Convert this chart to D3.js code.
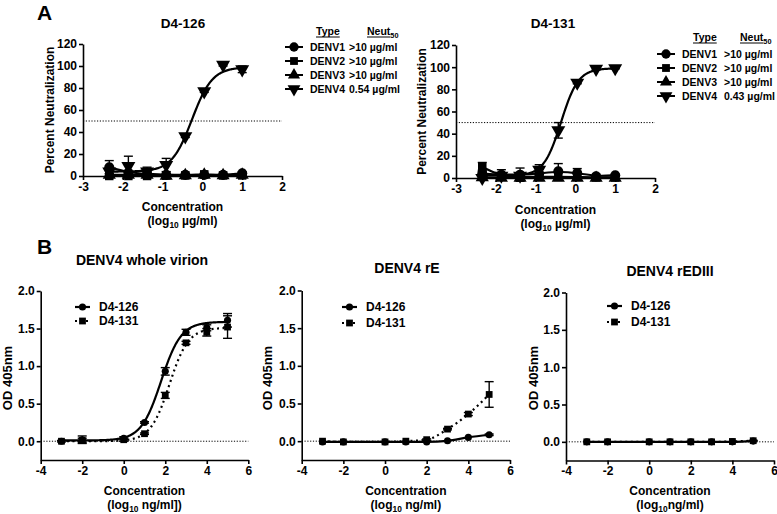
<!DOCTYPE html>
<html><head><meta charset="utf-8">
<script src="https://cdn.jsdelivr.net/npm/d3@7"></script>
<style>
body{margin:0;background:#fff}
svg text{font-family:"Liberation Sans",Arial,Helvetica,sans-serif;font-weight:bold;fill:#000}
</style>
</head><body>
<script>
// ---------------- DATA ----------------
// Panel A: log10 concentration (µg/ml)
const concA = [-2.34, -1.86, -1.39, -0.91, -0.43, 0.046, 0.52, 1.0];
const typesA = ["DENV1", "DENV2", "DENV3", "DENV4"];
const neut126 = [">10 µg/ml", ">10 µg/ml", ">10 µg/ml", "0.54 µg/ml"];
const neut131 = [">10 µg/ml", ">10 µg/ml", ">10 µg/ml", "0.43 µg/ml"];
const ticksAx = [-3, -2, -1, 0, 1, 2];
const ticksAy = [0, 20, 40, 60, 80, 100, 120];

// D4-126 neutralization (%)
const a126_denv1 = [8, 3, 2, 1, 1, 1, 1, 2.5];
const a126_denv1_err = [6, 0, 0, 0, 0, 0, 0, 1];
const a126_denv2 = [0, 0, 0, 0.5, 0.5, 1.5, 0.5, 0.5];
const a126_denv2_err = [0, 0, 0, 0, 0, 0, 0, 0];
const a126_denv3 = [1, 1, 1, 0, 0.5, 1, 0.5, 1];
const a126_denv3_err = [0, 0, 0, 0, 0, 0, 0, 0];
const a126_denv4 = [4, 9, 4, 10, 36, 77, 101, 97];
const a126_denv4_err = [2, 9, 4, 6, 1, 1, 1, 3];
const fit126_denv4 = [4, 99, -0.26, 1.7]; // bottom, top, logEC50, hill

// D4-131 neutralization (%)
const a131_denv1 = [4, 3, 3, 4, 6, 4.5, 1.5, 2.5];
const a131_denv1_err = [3, 4.5, 6, 4, 7, 4, 0, 0.5];
const a131_denv2 = [10, 1.5, 1, 1, 1, 1, 0.5, 0.5];
const a131_denv2_err = [4, 0, 0, 0, 0, 0, 0, 0];
const a131_denv3 = [0.5, 0, 0, 0, 0, 0, 0, 0];
const a131_denv3_err = [0, 0, 0, 0, 0, 0, 0, 0];
const a131_denv4 = [0, 2, 2, 7.5, 43, 86, 98.5, 99];
const a131_denv4_err = [0, 0, 0, 4.5, 7, 1, 1, 0.5];
const fit131_denv4 = [2, 99, -0.36, 2.0];

// Panel B: log10 concentration (ng/ml), OD 405nm
const concB = [-3, -2, 0, 1, 2, 3, 4, 5];
const antibodiesB = ["D4-126", "D4-131"];
const ticksBx = [-4, -2, 0, 2, 4, 6];
const ticksBy = [0, 0.5, 1.0, 1.5, 2.0];

const b1_126 = [0, 0.02, 0.04, 0.25, 0.93, 1.45, 1.51, 1.61];
const b1_126_err = [0.01, 0.05, 0.02, 0.01, 0.05, 0.04, 0.04, 0.09];
const b1_131 = [0, 0.01, 0.02, 0.10, 0.61, 1.31, 1.45, 1.52];
const b1_131_err = [0, 0.03, 0.02, 0.01, 0.04, 0.02, 0.05, 0.15];
const fitB1_126 = [0.01, 1.59, 1.8, 0.9];
const fitB1_131 = [0.0, 1.51, 2.2, 0.95];

const b2_126 = [-0.01, -0.01, -0.01, -0.01, -0.01, 0.005, 0.05, 0.085];
const b2_126_err = [0, 0, 0, 0, 0, 0, 0, 0.01];
const b2_131 = [0, -0.01, -0.01, 0, 0.02, 0.16, 0.36, 0.62];
const b2_131_err = [0, 0, 0, 0, 0.01, 0.01, 0.02, 0.17];

const b3_126 = [0, 0, 0, 0, 0, 0, 0, 0.01];
const b3_126_err = [0, 0, 0, 0, 0, 0, 0, 0];
const b3_131 = [0, 0, 0, 0, 0, 0, 0.005, 0.015];
const b3_131_err = [0, 0, 0, 0, 0, 0, 0, 0.005];

// ---------------- DRAWING ----------------
const svg = d3.select("body").append("svg").attr("width", 777).attr("height", 514);

const hill = (p, x) => p[0] + (p[1] - p[0]) / (1 + Math.pow(10, (p[2] - x) * p[3]));

function symPath(kind, size) {
  const types = {circle: d3.symbolCircle, square: d3.symbolSquare, up: d3.symbolTriangle, down: d3.symbolTriangle};
  return d3.symbol().type(types[kind]).size(size)();
}
function drawSym(g, kind, size, cx, cy) {
  g.append("path").attr("d", symPath(kind, size))
    .attr("transform", `translate(${cx},${cy})` + (kind === "down" ? " rotate(180)" : ""))
    .attr("fill", "#000");
}

function axes(g, x, y, xt, yt, yfmt, xAxisAt, fs) {
  const ya = g.append("g").attr("transform", `translate(${x.range()[0]},0)`)
    .call(d3.axisLeft(y).tickValues(yt).tickSize(4).tickSizeOuter(0).tickPadding(2).tickFormat(yfmt));
  const xa = g.append("g").attr("transform", `translate(0,${xAxisAt})`)
    .call(d3.axisBottom(x).tickValues(xt).tickSize(4).tickSizeOuter(0).tickPadding(2).tickFormat(d => String(d)));
  [ya, xa].forEach(a => {
    a.attr("font-family", null).attr("font-size", null);
    a.select(".domain").attr("stroke-width", 1.6);
    a.selectAll(".tick line").attr("stroke-width", 1.6);
    a.selectAll(".tick text").attr("font-size", fs);
  });
}

function errBars(g, x, y, xs, vs, es, cap) {
  xs.forEach((xv, i) => {
    if (!es[i]) return;
    const px = x(xv), y1 = y(vs[i] + es[i]), y0 = y(vs[i] - es[i]);
    g.append("line").attr("x1", px).attr("x2", px).attr("y1", y1).attr("y2", y0).attr("stroke", "#000").attr("stroke-width", 1.4);
    [y1, y0].forEach(yy => g.append("line").attr("x1", px - cap).attr("x2", px + cap).attr("y1", yy).attr("y2", yy).attr("stroke", "#000").attr("stroke-width", 1.4));
  });
}

function underlineText(g, txt, xs, ys, fs, subTxt) {
  const t = g.append("text").attr("x", xs).attr("y", ys).attr("font-size", fs).text(txt);
  const w = t.node().getComputedTextLength();
  g.append("line").attr("x1", xs).attr("x2", xs + w).attr("y1", ys + 2).attr("y2", ys + 2).attr("stroke", "#000").attr("stroke-width", 1);
  if (subTxt) g.append("text").attr("x", xs + w).attr("y", ys + 3).attr("font-size", fs * 0.7).text(subTxt);
}

function xLabel(g, cx, y1, unit, fs) {
  g.append("text").attr("x", cx).attr("y", y1).attr("text-anchor", "middle").attr("font-size", fs).text("Concentration");
  const t = g.append("text").attr("x", cx).attr("y", y1 + 14).attr("text-anchor", "middle").attr("font-size", fs);
  t.append("tspan").text("(log");
  t.append("tspan").attr("font-size", fs * 0.7).attr("dy", 3).text("10");
  t.append("tspan").attr("dy", -3).text(unit);
}

function yLabel(g, cx, cy, txt, fs) {
  g.append("text").attr("transform", `translate(${cx},${cy}) rotate(-90)`).attr("text-anchor", "middle")
    .attr("font-size", fs).attr("dy", "0.35em").text(txt);
}

// ---- Panel A ----
function panelA(cfg) {
  const g = svg.append("g");
  const x = d3.scaleLinear().domain([-3, 2]).range(cfg.xr);
  const y = d3.scaleLinear().domain([0, 120]).range(cfg.yr);
  g.append("line").attr("x1", x(-3)).attr("x2", x(2)).attr("y1", y(50)).attr("y2", y(50))
    .attr("stroke", "#000").attr("stroke-width", 1).attr("stroke-dasharray", "1.2,1.6");
  axes(g, x, y, ticksAx, ticksAy, d => String(d), y(0), 12);
  const kinds = ["circle", "square", "up", "down"];
  const sizes = [80, 72, 75, 85];
  const lineFlat = d3.line().x((d, i) => x(concA[i])).y(d => y(d)).curve(d3.curveBasis);
  cfg.series.forEach((s, k) => {
    if (k < 3) {
      g.append("path").attr("d", lineFlat(s.v)).attr("fill", "none").attr("stroke", "#000").attr("stroke-width", 2.2);
    } else {
      const xs = d3.range(concA[0], concA[concA.length - 1] + 0.001, 0.02);
      const ln = d3.line().x(d => x(d)).y(d => y(hill(cfg.fit, d)));
      g.append("path").attr("d", ln(xs)).attr("fill", "none").attr("stroke", "#000").attr("stroke-width", 2.2);
    }
  });
  cfg.series.forEach((s, k) => {
    errBars(g, x, y, concA, s.v, s.e, 4.5);
    concA.forEach((c, i) => drawSym(g, kinds[k], sizes[k], x(c), y(s.v[i])));
  });
  g.append("text").attr("x", cfg.titleX).attr("y", 28).attr("text-anchor", "middle").attr("font-size", 13.5).text(cfg.title);
  yLabel(g, cfg.ylabX, (cfg.yr[0] + cfg.yr[1]) / 2, "Percent Neutralization", 12);
  xLabel(g, (cfg.xr[0] + cfg.xr[1]) / 2, cfg.xlabY, " µg/ml)", 12);
  // legend
  const L = cfg.leg;
  underlineText(g, "Type", L.typeX, L.headY, 10.5);
  underlineText(g, "Neut", L.neutX, L.headY, 10.5, "50");
  typesA.forEach((t, k) => {
    const cy = L.rows[k];
    g.append("line").attr("x1", L.symX - 9).attr("x2", L.symX + 9).attr("y1", cy).attr("y2", cy).attr("stroke", "#000").attr("stroke-width", 2);
    drawSym(g, kinds[k], sizes[k] * 0.85, L.symX, cy);
    g.append("text").attr("x", L.textX).attr("y", cy + 3.8).attr("font-size", 10.5).text(t);
    g.append("text").attr("x", L.valX).attr("y", cy + 3.8).attr("font-size", 10.5).text(cfg.neut[k]);
  });
}

panelA({
  xr: [83, 282], yr: [176, 44], title: "D4-126", titleX: 183, ylabX: 50, xlabY: 211,
  series: [{v: a126_denv1, e: a126_denv1_err}, {v: a126_denv2, e: a126_denv2_err}, {v: a126_denv3, e: a126_denv3_err}, {v: a126_denv4, e: a126_denv4_err}],
  fit: fit126_denv4, neut: neut126,
  leg: {typeX: 316, neutX: 367, headY: 35, rows: [47, 61, 75, 89], symX: 294, textX: 310, valX: 349}
});
panelA({
  xr: [456, 655], yr: [178, 45], title: "D4-131", titleX: 553, ylabX: 422, xlabY: 214,
  series: [{v: a131_denv1, e: a131_denv1_err}, {v: a131_denv2, e: a131_denv2_err}, {v: a131_denv3, e: a131_denv3_err}, {v: a131_denv4, e: a131_denv4_err}],
  fit: fit131_denv4, neut: neut131,
  leg: {typeX: 693, neutX: 740, headY: 41, rows: [54, 68, 82, 96], symX: 666, textX: 682, valX: 724}
});

// ---- Panel B ----
function panelB(cfg) {
  const g = svg.append("g");
  const x = d3.scaleLinear().domain([-4, 6]).range(cfg.xr);
  const y = d3.scaleLinear().domain([-0.25, 2.0]).range(cfg.yr);
  g.append("line").attr("x1", x(-4)).attr("x2", x(6)).attr("y1", y(0)).attr("y2", y(0))
    .attr("stroke", "#000").attr("stroke-width", 1).attr("stroke-dasharray", "1.2,1.6");
  axes(g, x, y, ticksBx, ticksBy, d3.format(".1f"), y(-0.25), 12);
  const dashes = [null, "2,3.5"];
  const kinds = ["circle", "square"];
  const sizes = [40, 46];
  cfg.series.forEach((s, k) => {
    let d;
    if (s.fit) {
      const xs = d3.range(concB[0], concB[concB.length - 1] + 0.001, 0.02);
      d = d3.line().x(v => x(v)).y(v => y(hill(s.fit, v)))(xs);
    } else {
      d = d3.line().x((v, i) => x(concB[i])).y(v => y(v)).curve(d3.curveMonotoneX)(s.v);
    }
    g.append("path").attr("d", d).attr("fill", "none").attr("stroke", "#000").attr("stroke-width", 2.2)
      .attr("stroke-dasharray", dashes[k]);
  });
  cfg.series.forEach((s, k) => {
    errBars(g, x, y, concB, s.v, s.e, 4.5);
    concB.forEach((c, i) => drawSym(g, kinds[k], sizes[k], x(c), y(s.v[i])));
  });
  g.append("text").attr("x", cfg.titleX).attr("y", cfg.titleY).attr("text-anchor", "middle").attr("font-size", 14).text(cfg.title);
  yLabel(g, cfg.ylabX, 378, "OD 405nm", 13);
  const cx = (cfg.xr[0] + cfg.xr[1]) / 2;
  xLabel(g, cx, 495, cfg.unit, 12);
  antibodiesB.forEach((a, k) => {
    const cy = cfg.legY[k];
    g.append("line").attr("x1", cfg.legX).attr("x2", cfg.legX + 15).attr("y1", cy).attr("y2", cy)
      .attr("stroke", "#000").attr("stroke-width", 2.2).attr("stroke-dasharray", dashes[k]);
    drawSym(g, kinds[k], sizes[k], cfg.legX + 7.5, cy);
    g.append("text").attr("x", cfg.legX + 24).attr("y", cy + 4.2).attr("font-size", 12).text(a);
  });
}

panelB({
  xr: [40.7, 248.3], yr: [460, 291], title: "DENV4 whole virion", titleX: 142, titleY: 265, ylabX: 7, unit: " ng/ml])",
  series: [{v: b1_126, e: b1_126_err, fit: fitB1_126}, {v: b1_131, e: b1_131_err, fit: fitB1_131}],
  legX: 75, legY: [307, 321]
});
panelB({
  xr: [301.7, 510], yr: [460, 290.5], title: "DENV4 rE", titleX: 407, titleY: 273, ylabX: 267, unit: " ng/ml)",
  series: [{v: b2_126, e: b2_126_err}, {v: b2_131, e: b2_131_err}],
  legX: 342, legY: [307, 323]
});
panelB({
  xr: [566, 774], yr: [460.5, 292.5], title: "DENV4 rEDIII", titleX: 670, titleY: 276, ylabX: 533, unit: "ng/ml)",
  series: [{v: b3_126, e: b3_126_err}, {v: b3_131, e: b3_131_err}],
  legX: 607, legY: [306, 322]
});

svg.append("text").attr("x", 37).attr("y", 20).attr("font-size", 21).text("A");
svg.append("text").attr("x", 37).attr("y", 254).attr("font-size", 21).text("B");
</script>
</body></html>
